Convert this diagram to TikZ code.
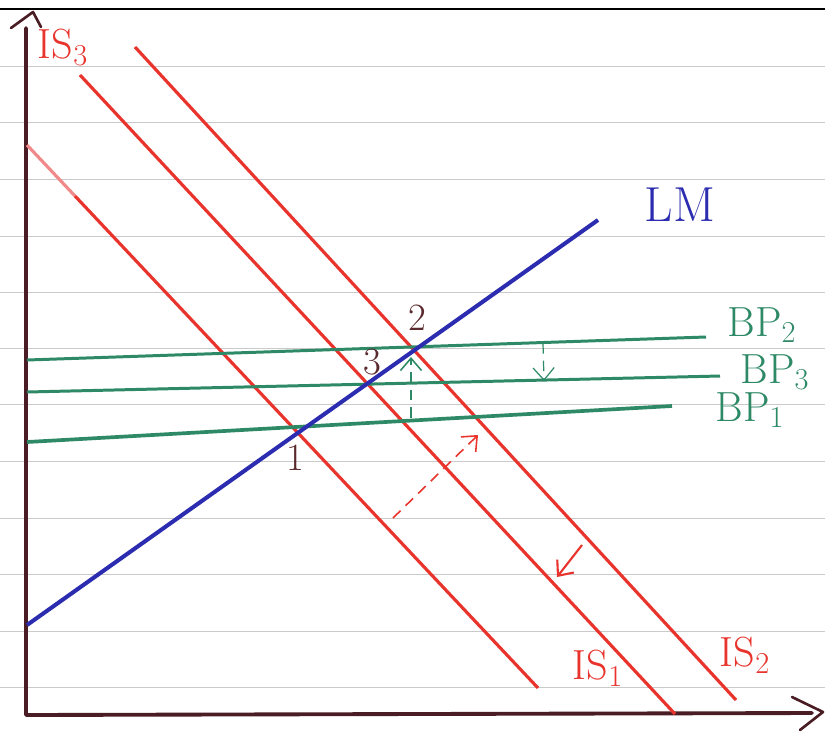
\documentclass[tikz,border=0pt]{standalone}
\usepackage{tikz}
\usetikzlibrary{arrows.meta}
\definecolor{isred}{HTML}{E8342C}
\definecolor{ispink}{HTML}{F08A8A}
\definecolor{bpgreen}{HTML}{2E8A66}
\definecolor{lmblue}{HTML}{2C2CB0}
\definecolor{axisbrown}{HTML}{4A1C24}
\definecolor{paperline}{HTML}{CACACA}
\definecolor{pointbrown}{HTML}{5A2A2E}

\begin{document}
\begin{tikzpicture}[x=0.02cm,y=-0.02cm, %1 unit = 1 pixel of the sketch, y grows downwards
  isline/.style={isred,line width=1.8pt},
  bpline/.style={bpgreen,line width=1.7pt},
  lmline/.style={lmblue,line width=2.3pt},
  axisline/.style={axisbrown,line width=2.2pt,line cap=round,line join=round},
  shiftarrow/.style={line width=0.9pt,dash pattern=on 6pt off 4pt,-{Straight Barb[length=7pt,width=12pt]}},
  curvelabel/.style={font=\fontsize{24}{28}\selectfont,inner sep=1pt},
  pointlabel/.style={pointbrown,font=\fontsize{22}{26}\selectfont,inner sep=1pt}]
\useasboundingbox (0,0) rectangle (825,731); %Sheet size
\fill[white] (0,0) rectangle (825,731); %Paper
\foreach \y in {66,122,179,236,292,348,404,461,518,574,631,687}
  \draw[paperline,line width=0.5pt] (0,\y) -- (825,\y); %Ruled lines
\draw[black,line width=1.6pt] (0,9) -- (825,9); %Top edge of the page
% axes
\coordinate (ytop) at (26,28);
\coordinate (origin) at (26,715);
\coordinate (xend) at (812,713);
\draw[axisline] (ytop) -- (origin) -- (xend); %Axes
\draw[axisline,line width=1.5pt] (11,28) -- (33,12) -- (41,27); %Arrowhead of the vertical axis
\draw[axisline,line width=1.5pt] (792,697) -- (823,712) -- (800,730); %Arrowhead of the horizontal axis
% IS curves
\coordinate (isoneA) at (27,145);
\coordinate (isoneM) at (75,196);
\coordinate (isoneB) at (538,688);
\coordinate (isthreeA) at (80,75);
\coordinate (isthreeB) at (675,714);
\coordinate (istwoA) at (135,47);
\coordinate (istwoB) at (736,700);
\draw[isline,ispink] (isoneA) -- (isoneM); %Faint start of the left IS line
\draw[isline] (isoneM) -- (isoneB); %Left IS line
\draw[isline] (isthreeA) -- (isthreeB); %Middle IS line
\draw[isline] (istwoA) -- (istwoB); %Right IS line
% BP curves
\coordinate (bptwoA) at (27,360);
\coordinate (bptwoB) at (706,337);
\coordinate (bpthreeA) at (27,392);
\coordinate (bpthreeB) at (720,376);
\coordinate (bponeA) at (27,442);
\coordinate (bponeB) at (672,406);
\draw[bpline] (bptwoA) -- (bptwoB); %BP2
\draw[bpline] (bpthreeA) -- (bpthreeB); %BP3
\draw[bpline,line width=2.1pt] (bponeA) -- (bponeB); %BP1
% LM curve
\coordinate (lmA) at (27,625);
\coordinate (lmB) at (598,220);
\draw[lmline] (lmA) -- (lmB); %LM
% shifts
\coordinate (upA) at (411,418);
\coordinate (upB) at (411,357);
\coordinate (downA) at (543,343);
\coordinate (downB) at (544,381);
\coordinate (isshiftA) at (393,518);
\coordinate (isshiftB) at (478,435);
\coordinate (backA) at (582,545);
\coordinate (backB) at (557,577);
\draw[shiftarrow,bpgreen] (upA) -- (upB); %BP1 to BP2
\draw[shiftarrow,bpgreen,line width=0.7pt] (downA) -- (downB); %BP2 to BP3
\draw[shiftarrow,isred] (isshiftA) -- (isshiftB); %IS1 to IS2
\draw[isred,line width=1.2pt,-{Straight Barb[length=7pt,width=12pt]}] (backA) -- (backB); %IS2 back to IS3
% labels
\node[curvelabel,isred] (isthreelabel) at (63,47) {IS$_3$};
\node[curvelabel,isred] (isonelabel) at (598,668) {IS$_1$};
\node[curvelabel,isred] (istwolabel) at (745,655) {IS$_2$};
\node[curvelabel,lmblue,font=\fontsize{28}{32}\selectfont] (lmlabel) at (680,205) {LM};
\node[curvelabel,bpgreen] (bptwolabel) at (762,325) {BP$_2$};
\node[curvelabel,bpgreen] (bpthreelabel) at (775,372) {BP$_3$};
\node[curvelabel,bpgreen] (bponelabel) at (750,410) {BP$_1$};
\node[pointlabel] (pone) at (295,458) {1};
\node[pointlabel] (ptwo) at (417,318) {2};
\node[pointlabel] (pthree) at (372,362) {3};
\end{tikzpicture}
\end{document}
